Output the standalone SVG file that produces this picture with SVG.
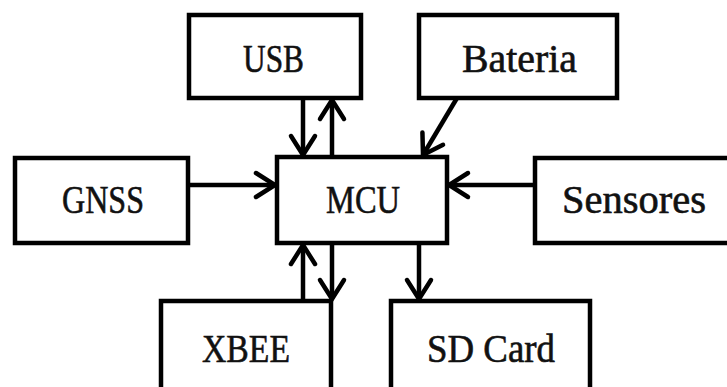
<svg xmlns="http://www.w3.org/2000/svg" width="727" height="387" viewBox="0 0 727 387">
  <style>
    .box { fill: #ffffff; stroke: #000000; stroke-width: 4.5; }
    .wire { fill: none; stroke: #000000; stroke-width: 4.5; }
    .label { font-family: "Liberation Serif", "DejaVu Serif", serif; font-size: 39px; fill: #111111; stroke: #111111; stroke-width: 0.6; text-anchor: middle; }
  </style>
  <defs>
    <marker id="head" markerUnits="userSpaceOnUse" orient="auto" refX="0" refY="0" markerWidth="40" markerHeight="40" viewBox="-25 -20 30 40" overflow="visible">
      <path d="M -19 -12 L 0 0 L -19 12" fill="none" stroke="#000000" stroke-width="4.5" stroke-linecap="round" stroke-linejoin="miter"/>
    </marker>
  </defs>
  <rect width="727" height="387" fill="#ffffff"/>

  <g id="connectors">
    <line class="wire" x1="303" y1="98" x2="303" y2="155" marker-end="url(#head)"/>
    <line class="wire" x1="332" y1="157" x2="332" y2="100" marker-end="url(#head)"/>
    <line class="wire" x1="457" y1="98" x2="423" y2="155" marker-end="url(#head)"/>
    <line class="wire" x1="188" y1="185" x2="275" y2="185" marker-end="url(#head)"/>
    <line class="wire" x1="535" y1="185" x2="449" y2="185" marker-end="url(#head)"/>
    <line class="wire" x1="303" y1="301" x2="303" y2="245" marker-end="url(#head)"/>
    <line class="wire" x1="332" y1="243" x2="332" y2="299" marker-end="url(#head)"/>
    <line class="wire" x1="419" y1="243" x2="419" y2="299" marker-end="url(#head)"/>
  </g>

  <g id="usb">
    <rect class="box" x="189" y="15" width="172" height="83"/>
    <text class="label" x="273.5" y="72" textLength="61" lengthAdjust="spacingAndGlyphs">USB</text>
  </g>
  <g id="bateria">
    <rect class="box" x="419" y="15" width="198" height="83"/>
    <text class="label" x="519.5" y="72" textLength="115" lengthAdjust="spacingAndGlyphs">Bateria</text>
  </g>
  <g id="gnss">
    <rect class="box" x="15" y="158" width="173" height="85"/>
    <text class="label" x="103" y="213" textLength="82" lengthAdjust="spacingAndGlyphs">GNSS</text>
  </g>
  <g id="mcu">
    <rect class="box" x="277" y="157" width="170" height="86"/>
    <text class="label" x="363" y="213" textLength="74" lengthAdjust="spacingAndGlyphs">MCU</text>
  </g>
  <g id="sensores">
    <rect class="box" x="535" y="158" width="200" height="85"/>
    <text class="label" x="634" y="213" textLength="144" lengthAdjust="spacingAndGlyphs">Sensores</text>
  </g>
  <g id="xbee">
    <rect class="box" x="161" y="301" width="170" height="100"/>
    <text class="label" x="246" y="362" textLength="88" lengthAdjust="spacingAndGlyphs">XBEE</text>
  </g>
  <g id="sdcard">
    <rect class="box" x="391" y="301" width="199" height="100"/>
    <text class="label" x="491" y="362" textLength="128" lengthAdjust="spacingAndGlyphs">SD Card</text>
  </g>
</svg>
